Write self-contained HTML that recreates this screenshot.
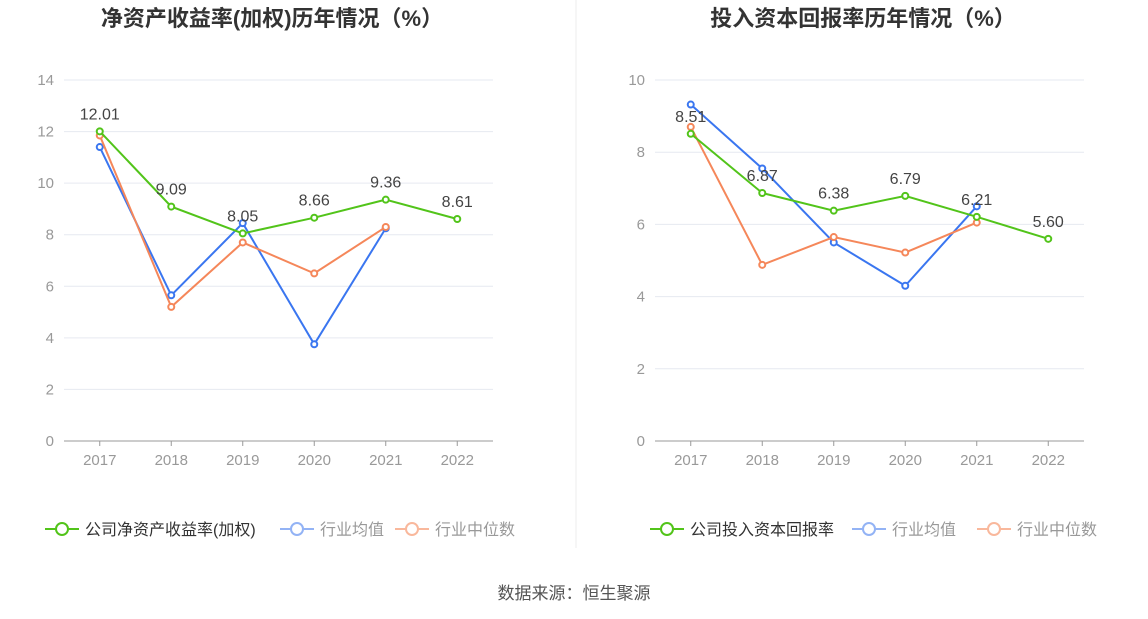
<!DOCTYPE html>
<html><head><meta charset="utf-8"><style>
body{margin:0;background:#fff;font-family:"Liberation Sans","Noto Sans CJK SC",sans-serif}
svg{display:block}
</style></head><body>
<svg id="c" width="1148" height="619" font-family="Liberation Sans, Noto Sans CJK SC, sans-serif"></svg>
<script>
const years=["2017","2018","2019","2020","2021","2022"];
const roeCompany=[12.01,9.09,8.05,8.66,9.36,8.61];
const roeAvg=[11.4,5.65,8.45,3.75,8.25];
const roeMedian=[11.85,5.2,7.7,6.5,8.3];
const roeTicks=[0,2,4,6,8,10,12,14];
const roicCompany=[8.51,6.87,6.38,6.79,6.21,5.60];
const roicAvg=[9.32,7.55,5.5,4.3,6.5];
const roicMedian=[8.7,4.88,5.65,5.22,6.05];
const roicTicks=[0,2,4,6,8,10];
const NS="http://www.w3.org/2000/svg";
const svg=document.getElementById('c');
function mk(t,a,p){const e=document.createElementNS(NS,t);for(const k in a)e.setAttribute(k,a[k]);(p||svg).appendChild(e);return e;}
const GREEN="#52c41a",BLUE="#3a76f0",ORANGE="#f5875a";
function chart(cfg){
 const g=mk('g',{});
 
 
 const x0=cfg.x0,x1=cfg.x1,yb=441,yt=80,max=cfg.ticks[cfg.ticks.length-1];
 const Y=v=>yb-(v/max)*(yb-yt);
 const step=(x1-x0)/years.length;
 const X=i=>x0+step*(i+0.5);
 const t=mk('text',{x:cfg.titleX,y:26,'text-anchor':'middle','font-size':22,'font-weight':'bold',fill:'#333'},g);t.textContent=cfg.title;
 
 cfg.ticks.forEach(v=>{
  if(v>0){const l=mk('line',{x1:x0,x2:x1,y1:Y(v),y2:Y(v),stroke:'#e6e9f0'},g);}
  const tx=mk('text',{x:x0-10,y:Y(v)+5,'text-anchor':'end','font-size':15,fill:'#999'},g);tx.textContent=v;
  
 });
 const ax=mk('line',{x1:x0,x2:x1,y1:yb,y2:yb,stroke:'#999'},g);
 years.forEach((y,i)=>{
  const tk=mk('line',{x1:X(i),x2:X(i),y1:yb,y2:yb+5,stroke:'#999'},g);
  const tx=mk('text',{x:X(i),y:yb+24,'text-anchor':'middle','font-size':15,fill:'#999'},g);tx.textContent=y;
  
 });
 function series(vals,col,nm,labels){
  const pl=mk('polyline',{points:vals.map((v,i)=>X(i)+','+Y(v)).join(' '),fill:'none',stroke:col,'stroke-width':2},g);
  
  vals.forEach((v,i)=>{
   const c=mk('circle',{cx:X(i),cy:Y(v),r:3,fill:'#fff',stroke:col,'stroke-width':2},g);
   
   if(labels){const tx=mk('text',{x:X(i),y:Y(v)-12,'text-anchor':'middle','font-size':16,fill:'#444'},g);tx.textContent=v.toFixed(2);
    }
  });
 }
 series(cfg.avg,BLUE,'industry-average');
 series(cfg.med,ORANGE,'industry-median');
 series(cfg.comp,GREEN,'company',true);
 const leg=[[cfg.legend,GREEN],["行业均值","#93b3f5"],["行业中位数","#f9b89c"]];
 leg.forEach(([txt,col],k)=>{
  const lx=cfg.legX[k];
  const lg=mk('g',{},g);
  mk('line',{x1:lx,x2:lx+34,y1:529,y2:529,stroke:col,'stroke-width':2},lg);
  mk('circle',{cx:lx+17,cy:529,r:6,fill:'#fff',stroke:col,'stroke-width':2},lg);
  const tx=mk('text',{x:lx+40,y:535,'font-size':16,fill:txt===cfg.legend?'#333':'#999'},lg);tx.textContent=txt;
 });
}
chart({name:'roe-chart',x0:64,x1:493,titleX:272,ticks:roeTicks,comp:roeCompany,avg:roeAvg,med:roeMedian,title:"净资产收益率(加权)历年情况（%）",legend:"公司净资产收益率(加权)",legX:[45,280,395]});
chart({name:'roic-chart',x0:655,x1:1084,titleX:863,ticks:roicTicks,comp:roicCompany,avg:roicAvg,med:roicMedian,title:"投入资本回报率历年情况（%）",legend:"公司投入资本回报率",legX:[650,852,977]});
const d=mk('line',{x1:576,x2:576,y1:0,y2:548,stroke:'#eee'});
const s=mk('text',{x:574,y:599,'text-anchor':'middle','font-size':17,fill:'#555'});s.textContent="数据来源：恒生聚源";

</script>
</body></html>
